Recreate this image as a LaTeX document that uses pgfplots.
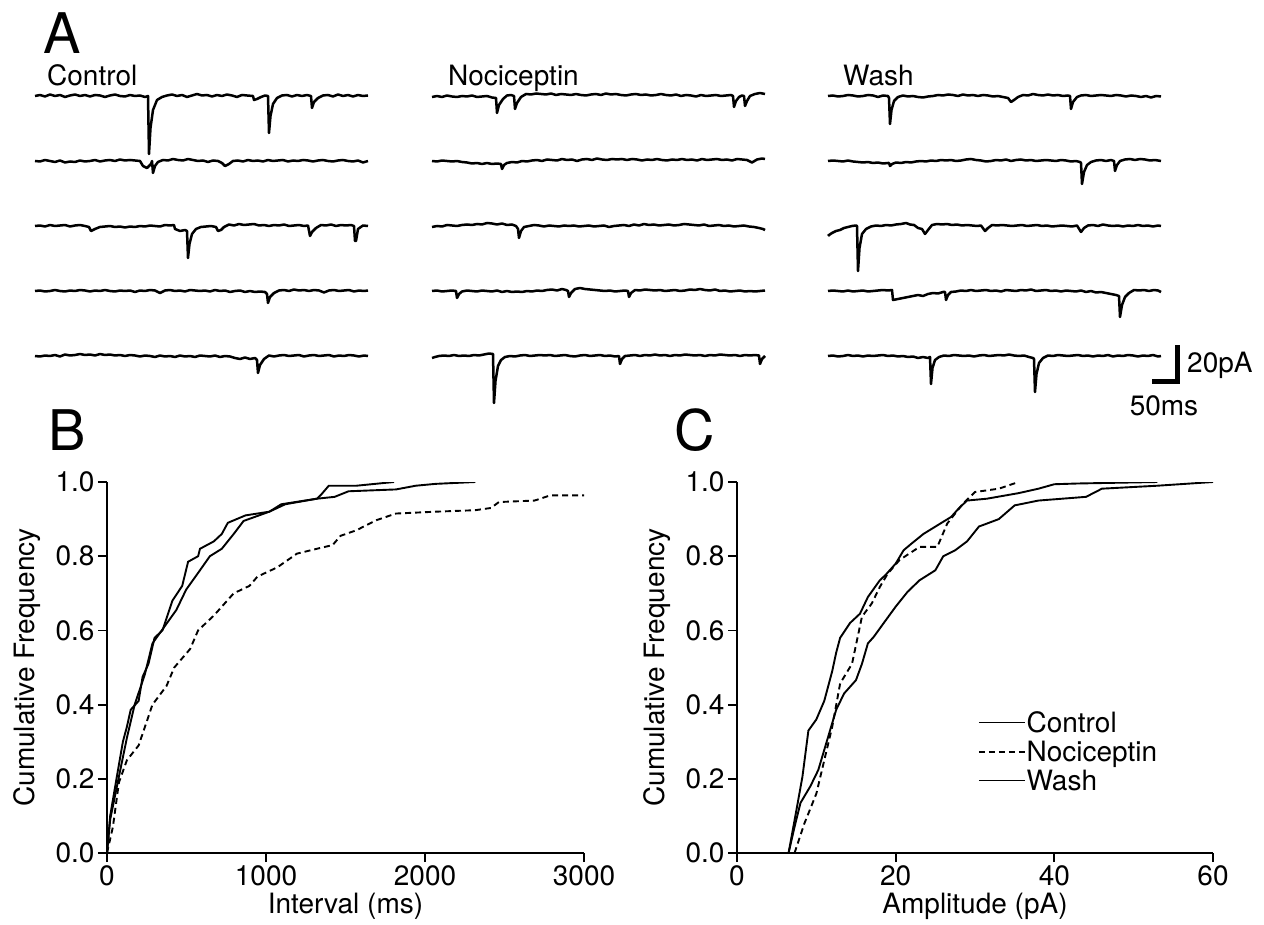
\documentclass[border=0pt]{standalone}
\usepackage{fontspec}
\setmainfont{TeX Gyre Heros}
\usepackage{pgfplots}
\pgfplotsset{compat=1.18}
\newcommand{\fs}{\fontsize{28}{30}\selectfont}
\newcommand{\fl}{\fontsize{56}{60}\selectfont}
\pgfplotsset{
  trace/.style={hide axis, scale only axis, width=333pt, height=100pt,
    xmin=0, xmax=333, ymin=-60, ymax=40, clip=false, anchor=south west},
  tr/.style={black, line width=2.5pt, line join=round, mark=none},
  cdf/.style={axis lines=left, axis line style={-, line width=1.8pt},
    scale only axis, width=477pt, height=371pt, anchor=south west,
    ymin=0, ymax=1, ytick={0,0.2,0.4,0.6,0.8,1.0},
    yticklabel style={/pgf/number format/.cd, fixed, fixed zerofill, precision=1},
    /pgf/number format/assume math mode=true,
    /pgf/number format/1000 sep={},
    tick label style={font=\fs}, label style={font=\fs},
    ylabel style={yshift=8pt},
    tick align=outside, major tick length=9pt,
    tick style={line width=1.8pt, black},
    enlargelimits=false, clip=true},
  cl/.style={black, line width=1.9pt, mark=none, sharp plot},
  dl/.style={black, line width=1.9pt, mark=none, sharp plot, dash pattern=on 6pt off 4pt},
}
\begin{document}
\begin{tikzpicture}
\path[use as bounding box] (0pt,0pt) rectangle (1264pt,-925pt);
% ---------- Panel A labels ----------
\node[anchor=base west, font=\fl, inner sep=0pt] at (43pt,-54pt) {A};
\node[anchor=base west, font=\fs, inner sep=0pt] at (47pt,-86pt) {Control};
\node[anchor=base west, font=\fs, inner sep=0pt] at (448pt,-86pt) {Nociceptin};
\node[anchor=base west, font=\fs, inner sep=0pt] at (843pt,-86pt) {Wash};
% ---------- Control ----------
\begin{axis}[trace, at={(35pt,-156pt)}]
\addplot[tr] coordinates {(0,0)(5,1)(10,-0.5)(15,1.5)(20,0)(25,1)(30,-1)(35,0.5)(40,1.5)(45,0)(50,1)(55,-0.5)(60,1)(65,0.5)(70,-1)(75,0.5)(80,1.5)(85,0)(90,-0.5)(95,1)(100,0)(105,0.5)(110,-1)(113,0)(114,-58)(115.5,-32)(118,-14)(122,-4)(127,-1)(132,0.5)(137,1.5)(142,0)(147,1)(152,-1)(157,0.5)(162,2)(167,0.5)(172,1)(177,-0.5)(182,1)(187,0)(192,1.5)(197,0.5)(202,-1)(207,1)(212,0.5)(218,0)(219,-4)(222,-3)(226,-1)(230,0.5)(233,0)(234,-37)(235.5,-20)(238,-8)(242,-2)(247,0.5)(252,1)(257,-0.5)(262,1)(267,0)(272,1)(276,0)(277,-12)(279,-6)(283,-2)(288,0.5)(293,1)(298,-0.5)(303,1.5)(308,0)(313,1)(318,-0.5)(323,1)(328,0)(333,0.5)};
\end{axis}
\begin{axis}[trace, at={(35pt,-221pt)}]
\addplot[tr] coordinates {(0,0)(5,-0.5)(10,1)(15,0)(20,-1)(25,0.5)(30,-1.5)(35,-0.5)(40,-1)(45,0.5)(50,-0.5)(55,0)(60,1)(65,-0.5)(70,0.5)(75,1)(80,0)(85,1.5)(90,0.5)(95,1)(100,0.5)(105,0)(108,-5)(112,-7)(116,-3)(117,0)(118,-12)(120,-5)(123,-1)(128,1)(133,0.5)(138,2)(143,1)(148,0.5)(153,2)(158,1)(163,0)(168,0.5)(173,-1)(178,0.5)(183,0)(187,-2)(190,-5)(194,-3)(198,0)(203,0.5)(208,-0.5)(213,1)(218,0)(223,0.5)(228,-0.5)(233,1)(238,0)(243,0.5)(248,1)(253,-0.5)(258,0.5)(263,0)(268,1)(273,0.5)(278,-0.5)(283,0.5)(288,1)(293,0)(298,-0.5)(303,0.5)(308,1)(313,0)(318,-0.5)(323,0.5)(328,-1.5)(333,0)};
\end{axis}
\begin{axis}[trace, at={(35pt,-286pt)}]
\addplot[tr] coordinates {(0,0)(5,0.5)(10,-0.5)(15,1)(20,0)(25,0.5)(30,1)(35,-0.5)(40,0.5)(45,1)(50,0)(54,-1)(56,-5)(60,-3)(65,-1)(70,-0.5)(75,0)(80,-1)(85,-0.5)(90,-1.5)(95,-0.5)(100,-1)(105,0)(110,-0.5)(115,0.5)(120,0)(125,-0.5)(130,1)(135,0.5)(139,1)(140,-3)(145,-5)(150,-4)(152,-5)(153,-32)(154.5,-18)(157,-8)(161,-3)(166,-1)(171,-0.5)(176,0)(181,-1)(183,-5)(186,-4)(189,-1)(194,1.5)(199,0.5)(204,2)(209,1)(214,1.5)(219,2)(224,0.5)(229,1)(234,0)(239,1)(244,0.5)(249,1.5)(254,0)(259,0.5)(264,1)(269,0)(273,0.5)(275,-10)(277,-6)(281,-2)(286,1)(291,0.5)(296,1.5)(301,0)(306,1)(311,0.5)(316,1)(319,0)(320,-15)(321,-15)(323,-3)(328,0.5)(333,0)};
\end{axis}
\begin{axis}[trace, at={(35pt,-351pt)}]
\addplot[tr] coordinates {(0,0)(5,0.5)(10,-0.5)(15,0)(20,1)(25,0)(30,-0.5)(35,0.5)(40,0)(45,1)(50,0.5)(55,-0.5)(60,0.5)(65,0)(70,1)(75,0)(80,-0.5)(85,0.5)(90,0)(95,0.5)(100,-1)(105,0.5)(110,0)(115,1)(120,0.5)(125,-2)(130,0.5)(135,1)(140,0)(145,0.5)(150,-0.5)(155,1)(160,0.5)(165,0)(170,0.5)(175,-0.5)(180,1)(185,0)(190,0.5)(195,-1)(200,0)(205,0.5)(210,-1)(215,0)(220,-1)(225,-0.5)(230,-1)(232,-3)(233,-12)(235,-6)(239,-2)(244,0.5)(249,1)(254,0)(259,1.5)(264,0.5)(269,1)(274,0)(279,1)(284,0.5)(289,-1.5)(294,0.5)(299,1)(304,0)(309,0.5)(314,1)(319,-0.5)(324,0.5)(329,0)(333,0.5)};
\end{axis}
\begin{axis}[trace, at={(35pt,-416pt)}]
\addplot[tr] coordinates {(0,0)(5,-0.5)(10,0.5)(15,0)(20,1)(25,-0.5)(30,1.5)(35,0.5)(40,1)(45,2)(50,1)(55,1.5)(60,0.5)(65,2)(70,1)(75,1.5)(80,0.5)(85,1)(90,0)(95,1)(100,0.5)(105,-0.5)(110,0.5)(115,0)(120,-1)(125,0.5)(130,-0.5)(135,0)(140,-1)(145,0.5)(150,-0.5)(155,0)(160,-1)(165,0.5)(170,0)(175,-0.5)(180,0.5)(185,-1)(190,0)(195,-0.5)(200,-2)(205,-3)(210,-1.5)(215,-3)(220,-2)(222,-4)(223,-17)(225,-9)(229,-3)(234,0.5)(239,-0.5)(244,0.5)(249,1)(254,0)(259,0.5)(264,1)(269,-0.5)(274,0.5)(279,1)(284,0)(289,0.5)(294,1)(299,-0.5)(304,0.5)(309,0)(314,1)(319,0.5)(324,-0.5)(329,0.5)(333,0)};
\end{axis}
% ---------- Nociceptin ----------
\begin{axis}[trace, at={(432pt,-156pt)}]
\addplot[tr] coordinates {(0,-1)(5,0)(10,-1)(15,0.5)(20,-0.5)(25,-1)(30,0)(35,-0.5)(40,0.5)(45,-1)(50,-0.5)(55,0)(60,-1.5)(64,-2)(65,-17)(67,-9)(71,-3)(75,0.5)(79,1)(82,0)(83,-13)(85,-7)(89,-1)(94,2)(99,1.5)(104,2.5)(109,2)(114,1.5)(119,2.5)(124,1)(129,2)(134,1.5)(139,1)(144,2)(149,1)(154,0.5)(159,1.5)(164,2)(169,1)(174,2.5)(179,1.5)(184,2)(189,1)(194,0.5)(199,1.5)(204,2)(209,1)(214,1.5)(219,0.5)(224,1)(229,2)(234,1)(239,0.5)(244,1.5)(249,0)(254,1)(259,0.5)(264,-0.5)(269,1)(274,0)(279,0.5)(284,1)(289,0)(294,0.5)(299,1)(301,0)(302,-11)(304,-5)(307,-1)(310,0.5)(312,0)(313,-10)(315,-5)(318,0)(323,2)(328,3)(333,2)};
\end{axis}
\begin{axis}[trace, at={(432pt,-221pt)}]
\addplot[tr] coordinates {(0,0)(5,-0.5)(10,0.5)(15,0)(20,-0.5)(25,0)(30,-1)(35,-1.5)(40,-2.5)(45,-2)(50,-3)(55,-2)(60,-3)(65,-2.5)(69,-3)(70,-8)(72,-4)(75,-2)(80,-1)(85,-1.5)(90,0)(95,-0.5)(100,0.5)(105,1)(110,0)(115,1.5)(120,1)(125,0.5)(130,2)(135,1)(140,1.5)(145,0)(150,1.5)(155,2)(160,1)(165,2.5)(170,1.5)(175,1)(180,2)(185,1.5)(190,2)(195,1)(200,2)(205,1.5)(210,0.5)(215,1.5)(220,1)(225,2)(230,1)(235,0.5)(240,1.5)(245,1)(250,2)(255,1)(260,1.5)(265,0.5)(270,2)(275,1)(280,1.5)(285,2)(290,1)(295,1.5)(300,0.5)(305,2)(310,1.5)(315,1)(320,-1.5)(325,1.5)(330,2.5)(333,2)};
\end{axis}
\begin{axis}[trace, at={(432pt,-286pt)}]
\addplot[tr] coordinates {(0,-1)(5,0)(10,-0.5)(15,1)(20,0.5)(25,0)(30,1)(35,1.5)(40,1)(45,2)(50,1.5)(55,3)(60,2.5)(65,1.5)(70,2.5)(75,1)(80,1.5)(84,0)(86,-3)(87,-12)(89,-5)(92,-1)(97,0)(102,1)(107,0.5)(112,-0.5)(117,0.5)(122,0)(127,-0.5)(132,0.5)(137,0)(142,0.5)(147,-0.5)(152,0)(157,0.5)(162,-0.5)(167,0)(172,0.5)(177,-1)(182,0)(187,0.5)(192,1)(197,0)(202,1.5)(207,0.5)(212,2)(217,1)(222,1.5)(227,0.5)(232,1)(237,1.5)(242,0.5)(247,1)(252,2)(257,1.5)(262,1)(267,0.5)(272,1.5)(277,0)(282,0.5)(287,1)(292,0)(297,0.5)(302,-0.5)(307,0)(312,0.5)(317,-0.5)(322,-1)(327,-2)(331,-3)(333,-4)};
\end{axis}
\begin{axis}[trace, at={(432pt,-351pt)}]
\addplot[tr] coordinates {(0,0)(5,0.5)(10,-0.5)(15,0)(20,0.5)(24,0)(25,-7)(27,-3)(30,-0.5)(35,0.5)(40,0)(45,-0.5)(50,0.5)(55,0)(60,-0.5)(65,0.5)(70,-1)(75,0)(80,-1)(85,-0.5)(90,-1)(95,0)(100,-0.5)(105,0.5)(110,0)(115,1)(120,1.5)(125,0.5)(130,2)(134,1)(136,0)(137,-6)(139,-2)(143,2)(148,3)(153,2)(158,1.5)(163,1)(168,0.5)(173,0)(178,0.5)(183,-0.5)(188,0)(193,0.5)(196,0)(197,-6)(199,-2)(203,1)(208,0.5)(213,1.5)(218,1)(223,0.5)(228,1)(233,0)(238,0.5)(243,1)(248,0)(253,0.5)(258,1.5)(263,1)(268,2)(273,1)(278,0.5)(283,1.5)(288,0)(293,0.5)(298,-0.5)(303,0)(308,0.5)(313,-0.5)(318,0)(323,-0.5)(328,0)(333,0.5)};
\end{axis}
\begin{axis}[trace, at={(432pt,-416pt)}]
\addplot[tr] coordinates {(0,-2)(3,-1)(7,0)(12,0.5)(17,0)(22,1)(27,0)(32,0.5)(37,0)(42,1)(47,0.5)(52,1.5)(57,2.5)(61,2)(62,-47)(63.5,-25)(66,-10)(69,-4)(73,-1)(78,0)(83,-0.5)(88,0.5)(93,1)(98,0)(103,0.5)(108,1)(113,0.5)(118,1)(123,0)(128,0.5)(133,1)(138,0)(143,-0.5)(148,0.5)(153,1)(158,0)(163,0.5)(168,1)(173,0)(178,0.5)(183,-0.5)(187,0)(188,-8)(190,-3)(193,0)(198,0.5)(203,1)(208,0)(213,1)(218,0.5)(223,1.5)(228,0.5)(233,1)(238,0)(243,1)(248,0.5)(253,1.5)(258,1)(263,0.5)(268,1)(273,0)(278,1)(283,0.5)(288,1.5)(293,1)(298,0.5)(303,1)(308,0)(313,1)(318,0.5)(323,1)(327,0.5)(328,-8)(330,-3)(333,0)};
\end{axis}
% ---------- Wash ----------
\begin{axis}[trace, at={(828pt,-156pt)}]
\addplot[tr] coordinates {(0,0)(5,0.5)(10,-0.5)(15,0)(20,1)(25,0.5)(30,-0.5)(35,0)(40,1)(45,0.5)(50,-1)(55,0.5)(60,0)(61,-2)(62,-28)(63.5,-14)(66,-5)(70,-1)(75,0.5)(80,-0.5)(85,0)(90,-1)(95,-1.5)(100,-0.5)(105,0)(110,1)(115,0.5)(120,1.5)(125,1)(130,0)(135,1.5)(140,0.5)(145,1)(150,0)(155,1)(160,0.5)(165,-0.5)(170,0)(175,-1)(180,-2)(183,-6)(186,-4)(190,-1)(195,1)(200,0.5)(205,2)(210,1)(215,0.5)(220,1.5)(225,0.5)(230,1)(235,0)(240,0.5)(242,0)(243,-13)(245,-6)(249,-1)(253,0.5)(258,1)(263,0)(268,0.5)(273,1)(278,0.5)(283,0)(288,1)(293,0.5)(298,-0.5)(303,0.5)(308,0)(313,-1)(318,0)(323,-1.5)(328,0)(333,-0.5)};
\end{axis}
\begin{axis}[trace, at={(828pt,-221pt)}]
\addplot[tr] coordinates {(0,0)(5,0.5)(10,0)(15,-0.5)(20,0.5)(25,-0.5)(30,-1)(35,-1.5)(40,-1)(45,-2)(50,-1.5)(55,-2.5)(60,-2)(61,-2)(62,-5)(64,-3)(68,-1.5)(73,-2)(78,-1)(83,-1.5)(88,-0.5)(93,0)(98,-0.5)(103,0.5)(108,0)(113,1)(118,0.5)(123,1)(128,0)(133,0.5)(138,1.5)(143,2)(148,1)(153,0.5)(158,-0.5)(163,0)(168,1)(173,0.5)(178,1.5)(183,0)(188,1)(193,1.5)(198,0.5)(203,1)(208,0)(213,0.5)(218,1)(223,0.5)(228,0)(233,1)(238,0.5)(243,-0.5)(248,0)(252,-1)(253,-2)(254,-23)(256,-11)(259,-4)(263,-1)(268,0.5)(273,1)(278,0)(283,1)(286,0)(287,-10)(289,-4)(292,0)(297,1.5)(302,2)(307,1)(312,2)(317,1.5)(322,0.5)(327,1)(333,0)};
\end{axis}
\begin{axis}[trace, at={(828pt,-286pt)}]
\addplot[tr] coordinates {(0,-10)(1,-9)(4,-7)(8,-5)(12,-4)(16,-2)(20,-1)(24,0)(28,0.5)(29,0)(30,-45)(31.5,-22)(34,-8)(38,-3)(43,-0.5)(48,0.5)(53,0)(58,1)(63,0.5)(68,1.5)(73,2)(78,3)(82,1.5)(86,1)(90,-2)(94,-3)(97,-8)(100,-4)(104,1)(109,2)(114,1.5)(119,2)(124,1)(129,1.5)(134,0.5)(139,1)(144,0.5)(149,0)(153,0.5)(157,-5)(160,-2)(164,1)(169,0.5)(174,1)(179,0.5)(184,0)(189,0.5)(194,1)(199,0)(204,0.5)(209,1)(214,0)(219,0.5)(224,-0.5)(229,0)(234,0.5)(239,0)(244,-0.5)(249,0.5)(253,-6)(256,-2)(260,0.5)(265,1)(270,0)(275,1.5)(280,0.5)(285,0)(290,0.5)(295,-0.5)(300,0.5)(305,0)(310,1)(315,0)(320,0.5)(325,-0.5)(330,0.5)(333,0)};
\end{axis}
\begin{axis}[trace, at={(828pt,-351pt)}]
\addplot[tr] coordinates {(0,0)(5,0.5)(10,0)(15,-0.5)(20,0.5)(25,-0.5)(30,0)(35,0.5)(40,-0.5)(45,0)(50,0.5)(55,1)(60,0.5)(64,1)(65,-9)(70,-8)(75,-7)(80,-6)(85,-5)(90,-4)(95,-5)(100,-3)(105,-2)(110,-2.5)(115,-1)(117,-1)(118,-9)(120,-4)(123,-1)(128,-0.5)(133,0.5)(138,0)(143,1)(148,0)(153,0.5)(158,1)(163,0)(168,0.5)(173,-0.5)(178,1)(183,0.5)(188,0)(193,1)(198,0.5)(203,1.5)(208,0)(213,0.5)(218,1)(223,0)(228,0.5)(233,-0.5)(238,0.5)(243,0)(248,-0.5)(253,0.5)(258,-1)(263,0)(268,-1.5)(273,-1)(278,-2)(283,-3)(288,-4)(291,-5)(292,-26)(294,-14)(297,-6)(301,-2)(306,1)(311,0.5)(316,1)(321,0)(326,1)(330,0.5)(333,-1)};
\end{axis}
\begin{axis}[trace, at={(828pt,-416pt)}]
\addplot[tr] coordinates {(0,0)(5,0.5)(10,-0.5)(15,0)(20,1)(25,0)(30,0.5)(35,-0.5)(40,0.5)(45,0)(50,0.5)(55,1)(60,0)(65,0.5)(70,-0.5)(75,0)(80,-1)(85,-0.5)(90,-2)(95,-1)(100,-2)(102,-1)(103,-28)(104.5,-12)(107,-4)(111,-1)(116,0.5)(121,0)(126,1)(131,0.5)(136,0)(141,0.5)(146,-0.5)(151,0.5)(156,1)(161,0)(166,0.5)(171,1)(176,0.5)(181,1.5)(186,0.5)(191,0)(196,0.5)(201,-1)(205,-2)(206,-3)(207,-36)(208.5,-18)(211,-7)(215,-2)(220,0.5)(225,0)(230,1)(235,0.5)(240,0)(245,0.5)(250,1)(255,0)(260,0.5)(265,-0.5)(270,0.5)(275,0)(280,1)(285,-0.5)(290,0.5)(295,0)(300,1)(305,0.5)(310,-0.5)(315,0.5)(320,0)(325,1)(330,-0.5)(333,0)};
\end{axis}
% scale bar
\draw[line width=5pt] (1152pt,-381.5pt) -- (1177.5pt,-381.5pt) -- (1177.5pt,-345pt);
\node[anchor=base west, font=\fs, inner sep=0pt] at (1187pt,-372pt) {20pA};
\node[anchor=base, font=\fs, inner sep=0pt] at (1164pt,-415pt) {50ms};
% ---------- Panel B ----------
\node[anchor=base west, font=\fl, inner sep=0pt] at (48pt,-450pt) {B};
\begin{axis}[cdf, at={(107pt,-853pt)}, xmin=0, xmax=3000, xtick={0,1000,2000,3000},
  xlabel={Interval (ms)}, ylabel={Cumulative Frequency}]
\addplot[cl] coordinates {(0,0)(20,0.1)(62,0.206)(100,0.3)(125,0.34)(149,0.386)(199,0.41)(224,0.475)(261,0.51)(299,0.58)(349,0.60)(411,0.68)(473,0.72)(510,0.785)(573,0.80)(585,0.82)(672,0.84)(722,0.86)(760,0.89)(871,0.91)(1021,0.92)(1096,0.94)(1320,0.955)(1345,0.965)(1395,0.99)(1569,0.99)(1805,1.0)};
\addplot[dl] coordinates {(0,0)(37,0.07)(75,0.19)(125,0.25)(199,0.29)(286,0.40)(374,0.45)(423,0.50)(523,0.55)(573,0.60)(672,0.64)(797,0.70)(896,0.72)(946,0.745)(1071,0.77)(1195,0.807)(1320,0.82)(1419,0.83)(1469,0.855)(1569,0.87)(1693,0.897)(1818,0.915)(2067,0.92)(2316,0.924)(2415,0.93)(2465,0.946)(2689,0.95)(2789,0.964)(3000,0.964)};
\addplot[cl] coordinates {(0,0)(20,0.09)(75,0.206)(125,0.31)(174,0.40)(237,0.48)(286,0.565)(361,0.61)(436,0.655)(498,0.71)(573,0.755)(647,0.80)(722,0.82)(797,0.86)(859,0.895)(1021,0.92)(1121,0.94)(1320,0.955)(1432,0.96)(1519,0.975)(1818,0.98)(1942,0.99)(2067,0.995)(2316,1.0)};
\end{axis}
% ---------- Panel C ----------
\node[anchor=base west, font=\fl, inner sep=0pt] at (674pt,-450pt) {C};
\begin{axis}[cdf, at={(737pt,-853pt)}, width=476pt, xmin=0, xmax=60, xtick={0,20,40,60},
  xlabel={Amplitude (pA)}, ylabel={Cumulative Frequency},
  legend style={draw=none, fill=none, at={(rel axis cs:0.5,0.39)}, anchor=north west,
    font=\fs, row sep=5pt, nodes={inner sep=1pt}},
  legend cell align=left,
  legend image code/.code={\draw[#1, line width=1.4pt] (0pt,0pt) -- (46pt,0pt);}]
\addplot[cl] coordinates {(6.5,0)(7.5,0.117)(8.25,0.206)(9,0.33)(10,0.36)(11,0.41)(12,0.49)(12.5,0.54)(13,0.58)(14.25,0.62)(15.5,0.645)(16.5,0.69)(18,0.735)(18.75,0.75)(20,0.78)(21,0.816)(22,0.834)(23.5,0.86)(25.25,0.883)(27,0.906)(28,0.93)(29,0.95)(31.5,0.955)(35.5,0.97)(38,0.982)(40,0.994)(43,0.996)(53,1.0)};
\addlegendentry{Control}
\addplot[dl] coordinates {(7.25,0)(8.5,0.08)(10,0.16)(11,0.25)(12,0.34)(13,0.457)(14.5,0.51)(15.75,0.637)(17,0.673)(18,0.717)(19,0.753)(20.5,0.79)(23,0.825)(25.25,0.825)(26.5,0.888)(28.5,0.942)(30,0.973)(33,0.982)(35.5,1.0)};
\addlegendentry{Nociceptin}
\addplot[cl] coordinates {(6.5,0)(7.25,0.07)(8,0.135)(9.25,0.18)(10.25,0.224)(11.5,0.314)(12.5,0.386)(13.5,0.43)(15,0.466)(15.75,0.51)(16.5,0.565)(17.25,0.583)(18.5,0.62)(20,0.664)(21.5,0.704)(23,0.735)(25,0.762)(26,0.80)(27.5,0.816)(29,0.84)(30.5,0.88)(33,0.90)(35,0.937)(38,0.95)(44,0.96)(46,0.982)(53,0.99)(60,1.0)};
\addlegendentry{Wash}
\end{axis}
\end{tikzpicture}
\end{document}
